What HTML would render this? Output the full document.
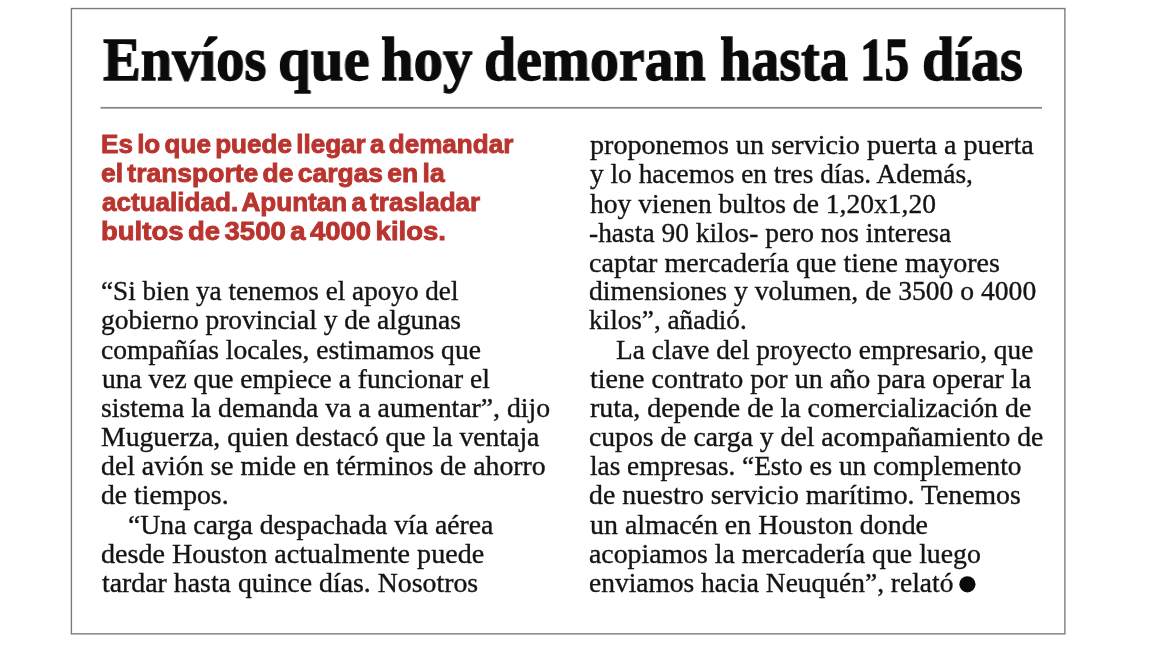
<!DOCTYPE html>
<html><head><meta charset="utf-8">
<style>
html,body{margin:0;padding:0;background:#fff;}
body{width:1170px;height:658px;position:relative;overflow:hidden;}
.L{position:absolute;white-space:nowrap;transform-origin:0 0;will-change:transform;}
.h{font-family:"Liberation Serif",serif;font-weight:bold;font-size:62px;line-height:80px;height:80px;word-spacing:-5px;color:#0b0b0b;-webkit-text-stroke:1.3px #0b0b0b;}
.d{font-family:"Liberation Sans",sans-serif;font-weight:bold;font-size:26px;line-height:30px;height:30px;word-spacing:-3px;color:#ba342f;-webkit-text-stroke:0.9px #ba342f;}
.b{font-family:"Liberation Serif",serif;font-size:27px;line-height:30px;height:30px;color:#141414;-webkit-text-stroke:0.35px #141414;}
svg{position:absolute;left:0;top:0;}
</style></head><body>
<svg width="1170" height="658" viewBox="0 0 1170 658">
<rect x="71.4" y="8.55" width="993.5" height="625.3" fill="none" stroke="#7c7c7c" stroke-width="1.4"/>
<rect x="100.5" y="106.9" width="941.5" height="1.8" fill="#8a8a8a"/>
<circle cx="967.4" cy="584.3" r="8.1" fill="#0a0a0a"/>
</svg>

<div class="L h" style="left:102.72px;top:19.30px;transform:scaleX(0.9126)">Envíos</div>
<div class="L h" style="left:277.97px;top:19.30px;transform:scaleX(0.9491)">que</div>
<div class="L h" style="left:381.47px;top:19.30px;transform:scaleX(0.9466)">hoy</div>
<div class="L h" style="left:484.10px;top:19.30px;transform:scaleX(0.9323)">demoran</div>
<div class="L h" style="left:720.03px;top:19.30px;transform:scaleX(0.9055)">hasta</div>
<div class="L h" style="left:859.91px;top:19.30px;transform:scaleX(0.7927)">15</div>
<div class="L h" style="left:922.11px;top:19.30px;transform:scaleX(0.9430)">días</div>
<div class="L d" style="left:101.49px;top:128.60px;transform:scaleX(1.0029)">Es lo que puede llegar a demandar</div>
<div class="L d" style="left:101.46px;top:157.80px;transform:scaleX(1.0179)">el transporte de cargas en la</div>
<div class="L d" style="left:101.50px;top:187.30px;transform:scaleX(1.0027)">actualidad. Apuntan a trasladar</div>
<div class="L d" style="left:101.41px;top:215.90px;transform:scaleX(1.0579)">bultos de 3500 a 4000 kilos.</div>
<div class="L b" style="left:101.29px;top:275.90px;transform:scaleX(1.0057)">“Si bien ya tenemos el apoyo del</div>
<div class="L b" style="left:101.26px;top:305.26px;transform:scaleX(1.0171)">gobierno provincial y de algunas</div>
<div class="L b" style="left:101.28px;top:334.62px;transform:scaleX(1.0216)">compañías locales, estimamos que</div>
<div class="L b" style="left:102.28px;top:363.98px;transform:scaleX(1.0186)">una vez que empiece a funcionar el</div>
<div class="L b" style="left:101.27px;top:393.34px;transform:scaleX(1.0276)">sistema la demanda va a aumentar”, dijo</div>
<div class="L b" style="left:101.27px;top:421.70px;transform:scaleX(1.0259)">Muguerza, quien destacó que la ventaja</div>
<div class="L b" style="left:101.27px;top:451.06px;transform:scaleX(1.0279)">del avión se mide en términos de ahorro</div>
<div class="L b" style="left:101.28px;top:480.42px;transform:scaleX(1.0247)">de tiempos.</div>
<div class="L b" style="left:128.17px;top:509.78px;transform:scaleX(1.0255)">“Una carga despachada vía aérea</div>
<div class="L b" style="left:101.26px;top:539.14px;transform:scaleX(1.0409)">desde Houston actualmente puede</div>
<div class="L b" style="left:102.26px;top:567.50px;transform:scaleX(1.0302)">tardar hasta quince días. Nosotros</div>
<div class="L b" style="left:590.16px;top:130.10px;transform:scaleX(1.0401)">proponemos un servicio puerta a puerta</div>
<div class="L b" style="left:590.18px;top:159.46px;transform:scaleX(1.0133)">y lo hacemos en tres días. Además,</div>
<div class="L b" style="left:590.17px;top:188.82px;transform:scaleX(1.0208)">hoy vienen bultos de 1,20x1,20</div>
<div class="L b" style="left:589.18px;top:218.18px;transform:scaleX(1.0170)">-hasta 90 kilos- pero nos interesa</div>
<div class="L b" style="left:589.16px;top:247.54px;transform:scaleX(1.0381)">captar mercadería que tiene mayores</div>
<div class="L b" style="left:589.18px;top:275.90px;transform:scaleX(1.0229)">dimensiones y volumen, de 3500 o 4000</div>
<div class="L b" style="left:589.19px;top:305.26px;transform:scaleX(1.0066)">kilos”, añadió.</div>
<div class="L b" style="left:616.39px;top:334.62px;transform:scaleX(1.0122)">La clave del proyecto empresario, que</div>
<div class="L b" style="left:590.16px;top:363.98px;transform:scaleX(1.0379)">tiene contrato por un año para operar la</div>
<div class="L b" style="left:590.17px;top:393.34px;transform:scaleX(1.0329)">ruta, depende de la comercialización de</div>
<div class="L b" style="left:589.18px;top:421.70px;transform:scaleX(1.0249)">cupos de carga y del acompañamiento de</div>
<div class="L b" style="left:590.19px;top:451.06px;transform:scaleX(1.0094)">las empresas. “Esto es un complemento</div>
<div class="L b" style="left:589.17px;top:480.42px;transform:scaleX(1.0287)">de nuestro servicio marítimo. Tenemos</div>
<div class="L b" style="left:590.16px;top:509.78px;transform:scaleX(1.0339)">un almacén en Houston donde</div>
<div class="L b" style="left:589.17px;top:539.14px;transform:scaleX(1.0290)">acopiamos la mercadería que luego</div>
<div class="L b" style="left:589.18px;top:567.50px;transform:scaleX(1.0168)">enviamos hacia Neuquén”, relató</div>
</body></html>
